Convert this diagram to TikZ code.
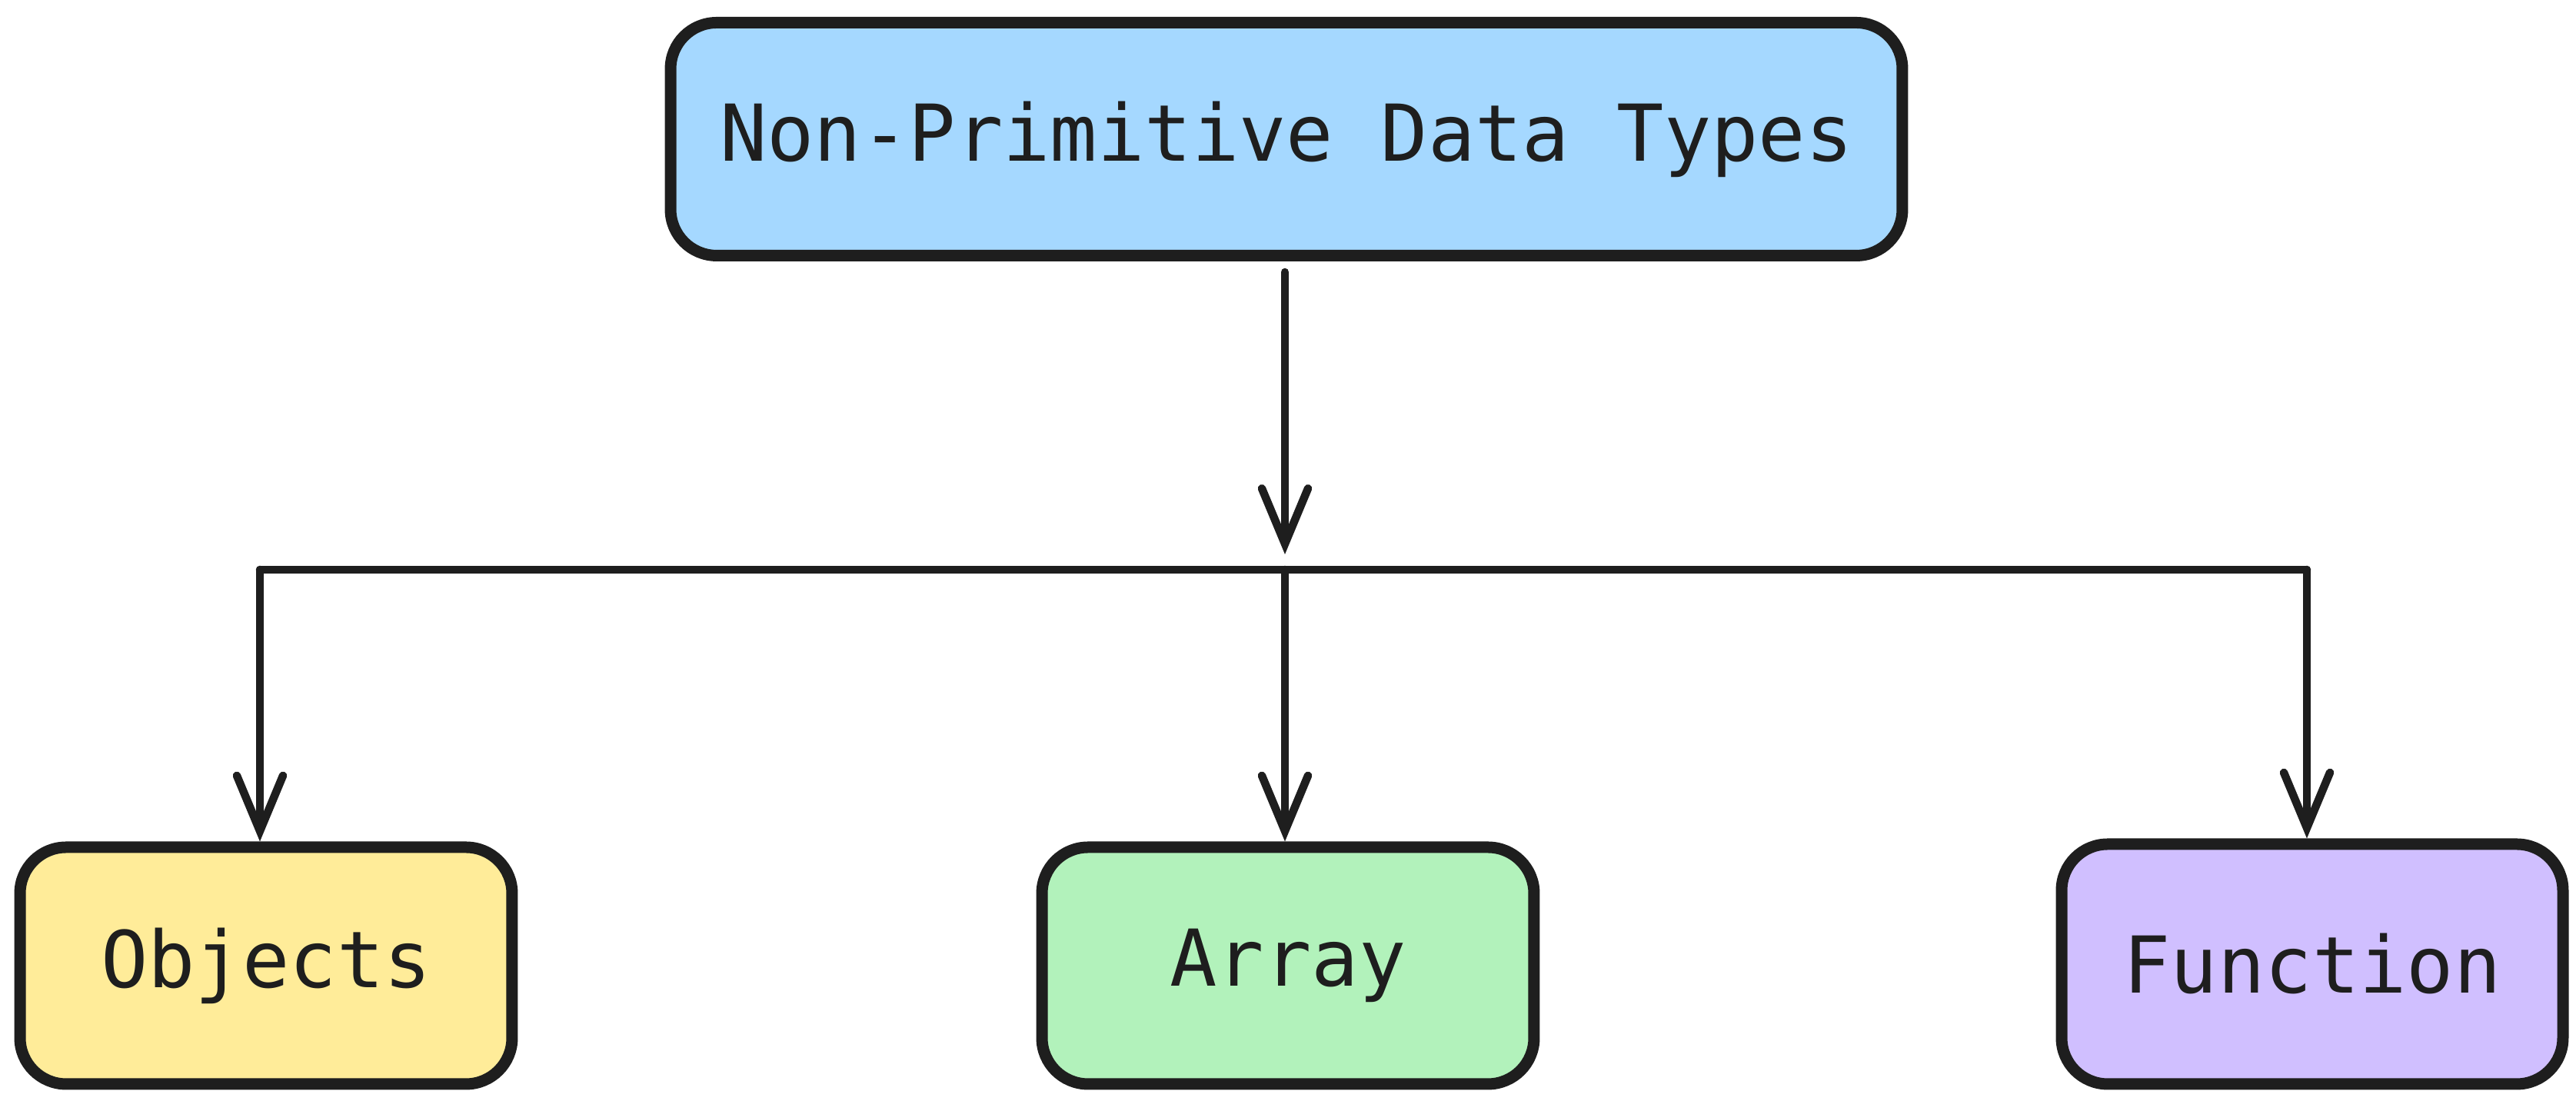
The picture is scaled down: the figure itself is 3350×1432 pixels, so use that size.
\documentclass[tikz,border=0pt]{standalone}
\usepackage{fontspec}
\setmainfont{DejaVu Sans Mono}
\usetikzlibrary{arrows.meta}
\definecolor{ink}{HTML}{1E1E1E}
\definecolor{fblue}{HTML}{A5D8FF}
\definecolor{fyellow}{HTML}{FFEC99}
\definecolor{fgreen}{HTML}{B2F2BB}
\definecolor{fviolet}{HTML}{D0BFFF}
\tikzset{
  box/.style={draw=ink, line width=1.5pt, rounded corners=6pt, text=ink,
    font=\fontsize{10.2}{12}\selectfont, inner sep=0pt},
  leaf/.style={box, minimum width=64pt, minimum height=30.8pt},
  conn/.style={draw=ink, line width=1.05pt, line cap=round, line join=round},
  arr/.style={conn, -{Straight Barb[length=7.2pt,width=6pt,line cap=round]}}
}
\begin{document}
\begin{tikzpicture}[x=0.1pt,y=-0.1pt]
\useasboundingbox (0,0) rectangle (3350,1432);
\node[box, fill=fblue, minimum width=160.2pt, minimum height=30.3pt] (top) at (1673,181) {Non-Primitive Data Types};
\node[leaf, fill=fyellow] (obj) at (346,1256) {Objects};
\node[leaf, fill=fgreen] (arr) at (1675,1256) {Array};
\node[leaf, fill=fviolet, minimum width=65.2pt, minimum height=31.2pt] (fun) at (3007,1254) {Function};
\coordinate (jL) at (338,741);
\coordinate (jM) at (1671,741);
\coordinate (jR) at (3000,741);
\coordinate (tS) at (1671,354);
\draw[arr, shorten >=2pt] (tS) -- (jM);
\draw[conn] (jL) -- (jR);
\draw[arr] (jL) -- (jL |- obj.north);
\draw[arr] (jM) -- (jM |- arr.north);
\draw[arr] (jR) -- (jR |- fun.north);
\end{tikzpicture}
\end{document}
